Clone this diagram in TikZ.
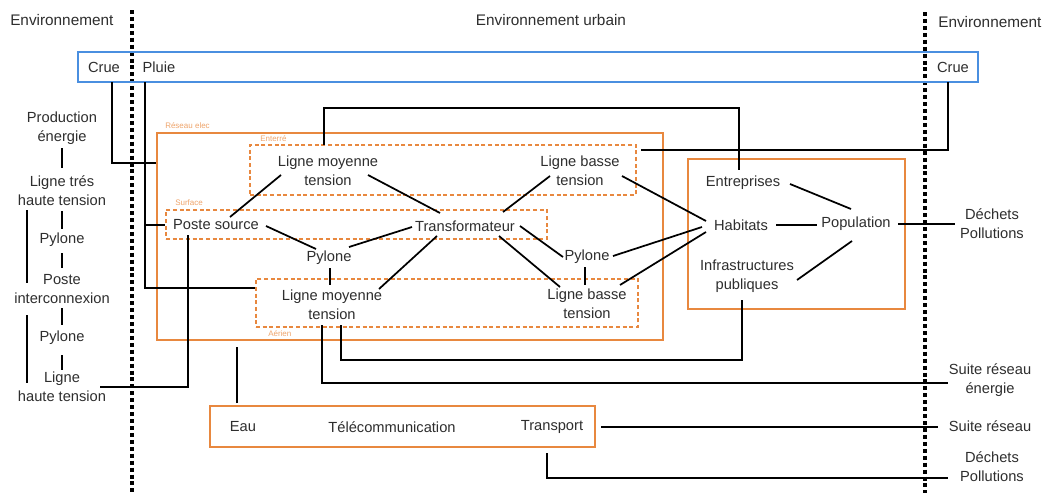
\documentclass[tikz,border=0pt]{standalone}
\usepackage{fontspec}
\setmainfont{Liberation Sans}
\usetikzlibrary{calc,fit}
\definecolor{orng}{HTML}{E8883F}
\definecolor{lorng}{HTML}{EFA56C}
\definecolor{blu}{HTML}{4A8FE0}
\definecolor{txt}{HTML}{2E2E2E}
\begin{document}
\begin{tikzpicture}[x=0.75pt,y=-0.75pt,
  lbl/.style={font=\fontsize{11}{14.2}\selectfont, text=txt, align=center, inner sep=1pt},
  hdr/.style={font=\fontsize{11.5}{14}\selectfont, text=txt, inner sep=0pt},
  tinylbl/.style={font=\fontsize{6}{7}\selectfont, text=lorng, inner sep=0pt, anchor=west},
  conn/.style={draw=black, line width=1.3pt},
  obox/.style={draw=orng, line width=2.2pt, inner sep=0pt},
  dbox/.style={draw=orng, line width=1.6pt, dash pattern=on 3pt off 2pt, inner sep=0pt},
  sepline/.style={line width=2.4pt, dash pattern=on 3pt off 2.2pt},
]
\useasboundingbox (0,0) rectangle (1047,493);
\fill[white] (0,0) rectangle (1047,493);

% separators
\draw[sepline] (132,10) -- (132,493);
\draw[sepline] (925,12) -- (925,493);

% headers
\node[hdr, anchor=west] (envl) at (10,20) {Environnement};
\node[hdr] (envu) at (551,20) {Environnement urbain};
\node[hdr, anchor=west] (envr) at (938,22) {Environnement};

% boxes
\node[draw=blu, line width=2pt, inner sep=0pt, fit={(78,52) (978,82)}] (blue) {};
\node[obox, fit={(157,133) (663,340)}] (reseau) {};
\node[dbox, fit={(250,145) (636,195)}] (ente) {};
\node[dbox, fit={(166,210) (547,239)}] (surf) {};
\node[dbox, fit={(256,279) (638,327)}] (aer) {};
\node[obox, fit={(688,159) (905,309)}] (popbox) {};
\node[obox, fit={(210,406) (595,447)}] (bbox) {};

\node[tinylbl] (lres) at (165,126) {Réseau elec};
\node[tinylbl] (lent) at (260,139) {Enterré};
\node[tinylbl] (lsurf) at (175,203) {Surface};
\node[tinylbl] (laer) at (268,334) {Aérien};

% top
\node[lbl] (crue1) at (104,67) {Crue};
\node[lbl] (pluie) at (159,67) {Pluie};
\node[lbl] (crue2) at (953,67) {Crue};

% left column
\node[lbl] (prod) at (62,128) {Production\\énergie};
\node[lbl] (ltht) at (62,191) {Ligne trés\\haute tension};
\node[lbl] (pyl1) at (62,240) {Pylone};
\node[lbl] (pi) at (62,289) {Poste\\interconnexion};
\node[lbl] (pyl2) at (62,338) {Pylone};
\node[lbl] (lht) at (62,387) {Ligne\\haute tension};

% network nodes
\node[lbl] (lmte) at (328,171) {Ligne moyenne\\tension};
\node[lbl] (lbte) at (580,171) {Ligne basse\\tension};
\node[lbl] (ps) at (216,225) {Poste source};
\node[lbl] (tr) at (465,226) {Transformateur};
\node[lbl] (pyl) at (329,258) {Pylone};
\node[lbl] (pyr) at (587,257) {Pylone};
\node[lbl] (lmta) at (332,305) {Ligne moyenne\\tension};
\node[lbl] (lbta) at (587,304) {Ligne basse\\tension};

% population
\node[lbl] (ent) at (743,183) {Entreprises};
\node[lbl] (hab) at (741,225) {Habitats};
\node[lbl] (pop) at (856,224) {Population};
\node[lbl] (inf) at (747,276) {Infrastructures\\publiques};

% bottom
\node[lbl] (eau) at (243,427) {Eau};
\node[lbl] (tel) at (392,427) {Télécommunication};
\node[lbl] (tra) at (552,427) {Transport};

% right
\node[lbl] (dp1) at (992,224) {Déchets\\Pollutions};
\node[lbl] (sre) at (990,380) {Suite réseau\\énergie};
\node[lbl] (sr) at (990,426) {Suite réseau};
\node[lbl] (dp2) at (992,467) {Déchets\\Pollutions};

% left column connectors
\draw[conn] ($(prod)+(0,20)$) -- ($(ltht)+(0,-23)$);
\draw[conn] ($(ltht)+(0,20)$) -- ($(pyl1)+(0,-11)$);
\draw[conn] ($(pyl1)+(0,13)$) -- ($(pi)+(0,-21)$);
\draw[conn] ($(pi)+(0,19)$) -- ($(pyl2)+(0,-13)$);
\draw[conn] ($(pyl2)+(0,17)$) -- ($(lht)+(0,-17)$);
\draw[conn] ($(ltht)+(-35,19)$) -- ($(pi)+(-35,-6)$);
\draw[conn] ($(pi)+(-35,26)$) -- ($(lht)+(-35,-4)$);
\draw[conn] ($(lht)+(38,0)$) -| ($(ps)+(-28,10)$);

% environment connectors
\draw[conn] ($(crue1)+(8,15)$) |- (reseau.west |- 0,163);
\draw[conn] ($(pluie)+(-14,15)$) |- (aer.west |- 0,288);
\coordinate (pj) at (145,225);
\draw[conn] (pj) -- (surf.west |- pj);
\draw[conn] ($(crue2)+(-5,15)$) |- ($(ente.east)+(4,-20)$);
\coordinate (tj) at (739,108);
\draw[conn] ($(lmte)+(-4,-26)$) |- (tj) -- ($(ent)+(-4,-13)$);

% network connectors
\draw[conn] ($(lmte)+(-47,4)$) -- ($(ps)+(14,-8)$);
\draw[conn] ($(lmte)+(40,4)$) -- ($(tr)+(-25,-13)$);
\draw[conn] ($(ps)+(50,1)$) -- ($(pyl)+(-13,-9)$);
\draw[conn] ($(pyl)+(20,-11)$) -- ($(tr)+(-53,1)$);
\draw[conn] ($(pyl)+(1,10)$) -- ($(lmta)+(-2,-20)$);
\draw[conn] ($(tr)+(-28,10)$) -- ($(lmta)+(47,-16)$);
\draw[conn] ($(tr)+(38,-14)$) -- ($(lbte)+(-30,5)$);
\draw[conn] ($(tr)+(55,0)$) -- ($(pyr)+(-24,0)$);
\draw[conn] ($(tr)+(34,10)$) -- ($(lbta)+(-27,-17)$);
\draw[conn] ($(pyr)+(-2,10)$) -- ($(lbta)+(-2,-19)$);
\draw[conn] ($(lbte)+(42,5)$) -- ($(hab)+(-35,-4)$);
\draw[conn] ($(pyr)+(26,-1)$) -- ($(hab)+(-39,2)$);
\draw[conn] ($(lbta)+(33,-19)$) -- ($(hab)+(-35,7)$);

% population connectors
\draw[conn] ($(ent)+(47,1)$) -- ($(pop)+(-5,-15)$);
\draw[conn] ($(hab)+(35,0)$) -- ($(pop)+(-39,1)$);
\draw[conn] ($(inf)+(50,4)$) -- ($(pop)+(-4,17)$);
\draw[conn] ($(pop)+(42,0)$) -- ($(dp1)+(-37,0)$);

% lower connectors
\draw[conn] ($(lmta)+(-10,20)$) |- ($(sre)+(-42,3)$);
\coordinate (bj) at (742,360);
\draw[conn] ($(lmta)+(9,20)$) |- (bj) -- ($(inf)+(-5,24)$);
\draw[conn] ($(eau)+(-6,-24)$) -- ($(eau |- reseau.south)+(-6,6)$);
\draw[conn] ($(tra)+(49,0)$) -- ($(sr)+(-52,1)$);
\draw[conn] ($(tra)+(-5,26)$) |- ($(dp2)+(-44,11)$);
\end{tikzpicture}
\end{document}
